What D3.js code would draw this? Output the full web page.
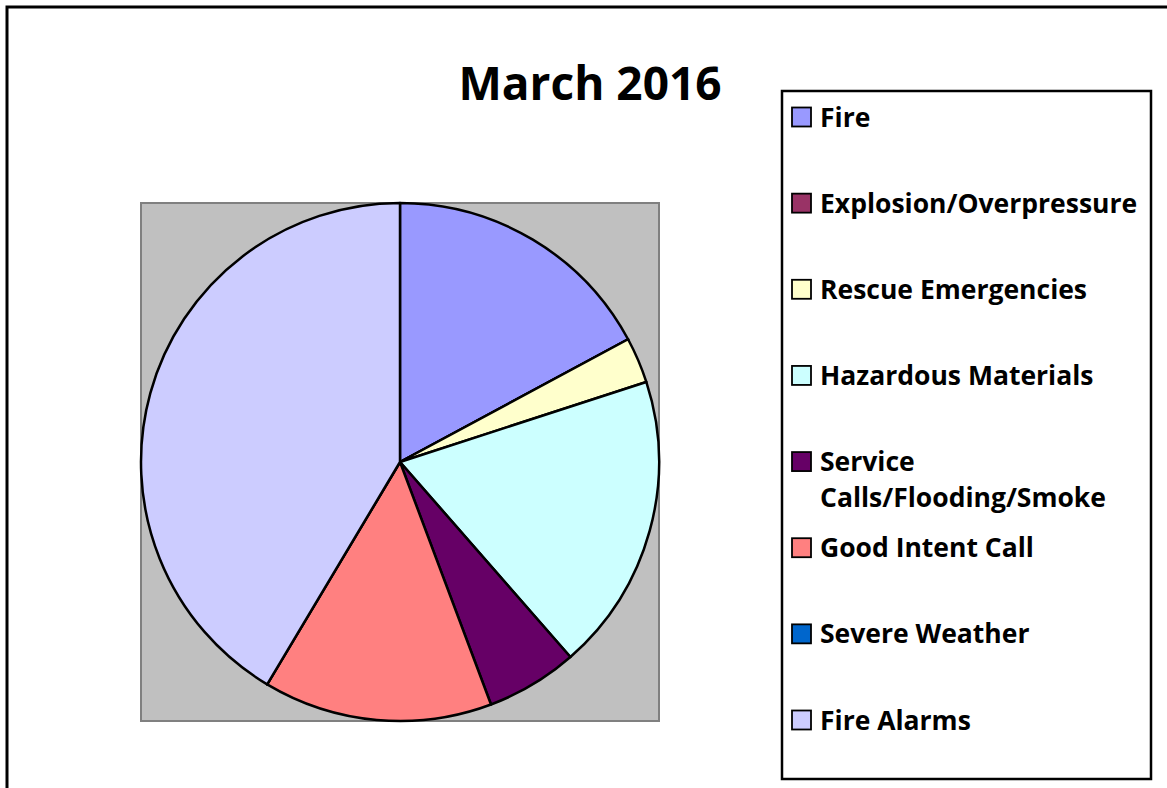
<!DOCTYPE html>
<html lang="en">
<head>
<meta charset="UTF-8">
<title>March 2016</title>
<script src="https://d3js.org/d3.v7.min.js"></script>
<style>
  body { margin: 0; background: #fff; }
  text { font-family: "Open Sans", Lato, sans-serif; font-weight: bold; fill: #000; }
</style>
</head>
<body>
<svg id="chart" width="1167" height="788"></svg>
<script>

const categories = [
    'Fire',
    'Explosion/Overpressure',
    'Rescue Emergencies',
    'Hazardous Materials',
    'Service Calls/Flooding/Smoke',
    'Good Intent Call',
    'Severe Weather',
    'Fire Alarms'
];
const counts = [12, 0, 2, 13, 4, 10, 0, 29];
const colors = ['#9999ff', '#993366', '#ffffcc', '#ccffff', '#660066', '#ff8080', '#0066cc', '#ccccff'];
// legend wraps this one label over two lines
const legendLines = [
    ['Fire'],
    ['Explosion/Overpressure'],
    ['Rescue Emergencies'],
    ['Hazardous Materials'],
    ['Service', 'Calls/Flooding/Smoke'],
    ['Good Intent Call'],
    ['Severe Weather'],
    ['Fire Alarms']
];
const title = 'March 2016';

const data = categories.map((c, i) => ({ name: c, value: counts[i], color: colors[i], lines: legendLines[i] }));

const svg = d3.select('#chart');

// outer chart frame (runs off the right and bottom)
svg.append('rect')
    .attr('x', 7).attr('y', 7)
    .attr('width', 1180).attr('height', 800)
    .attr('fill', '#fff').attr('stroke', '#000').attr('stroke-width', 3);

svg.append('text')
    .attr('x', 590).attr('y', 100)
    .attr('text-anchor', 'middle')
    .attr('font-size', 46)
    .text(title);

// plot area
const plot = { x: 141, y: 203, size: 518 };
svg.append('rect')
    .attr('x', plot.x).attr('y', plot.y)
    .attr('width', plot.size).attr('height', plot.size)
    .attr('fill', '#c0c0c0').attr('stroke', '#808080').attr('stroke-width', 2);

const radius = plot.size / 2;
const pie = d3.pie().sort(null).value(d => d.value);
const arc = d3.arc().innerRadius(0).outerRadius(radius);

svg.append('g')
    .attr('transform', `translate(${plot.x + radius},${plot.y + radius})`)
    .selectAll('path')
    .data(pie(data))
    .join('path')
    .attr('d', arc)
    .attr('fill', d => d.data.color)
    .attr('stroke', '#000')
    .attr('stroke-width', 2.5)
    .attr('stroke-linejoin', 'round');

// legend
svg.append('rect')
    .attr('x', 782).attr('y', 91)
    .attr('width', 369).attr('height', 688)
    .attr('fill', '#fff').attr('stroke', '#000').attr('stroke-width', 2.5);

const rowY = d3.scalePoint().domain(categories).range([117, 720]);

const items = svg.append('g').selectAll('g')
    .data(data)
    .join('g')
    .attr('transform', d => `translate(0,${rowY(d.name)})`);

items.append('rect')
    .attr('x', 792).attr('y', -9.5)
    .attr('width', 19).attr('height', 19)
    .attr('fill', d => d.color)
    .attr('stroke', '#000').attr('stroke-width', 1.8);

items.append('text')
    .attr('x', 820).attr('y', 9.5)
    .attr('font-size', 26.5)
    .selectAll('tspan')
    .data(d => d.lines)
    .join('tspan')
    .attr('x', 820)
    .attr('dy', (d, i) => i === 0 ? 0 : 36)
    .text(d => d);

</script>
</body>
</html>
